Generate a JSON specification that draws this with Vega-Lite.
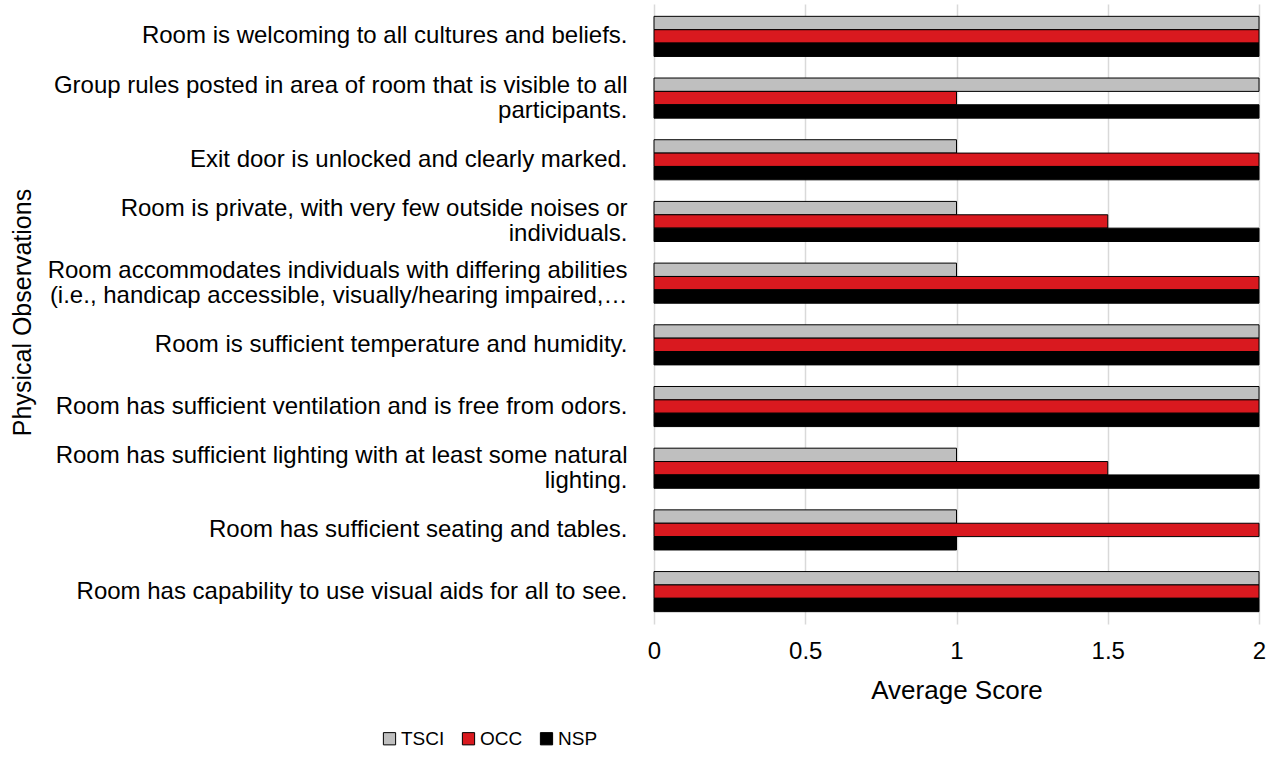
{
  "$schema": "https://vega.github.io/schema/vega-lite/v6.json",
  "autosize": {"type": "none"},
  "width": 605,
  "height": 620,
  "padding": {"left": 654, "top": 4, "right": 14, "bottom": 146},
  "background": "white",
  "config": {
    "font": "Liberation Sans",
    "view": {"stroke": null},
    "axis": {"labelFont": "Liberation Sans", "titleFont": "Liberation Sans", "labelColor": "#000000", "titleColor": "#000000", "titleFontWeight": "normal"}
  },
  "data": {
    "values": [
      {"item": "Room is welcoming to all cultures and beliefs.", "series": "TSCI", "value": 2},
      {"item": "Room is welcoming to all cultures and beliefs.", "series": "OCC", "value": 2},
      {"item": "Room is welcoming to all cultures and beliefs.", "series": "NSP", "value": 2},
      {"item": "Group rules posted in area of room that is visible to all|participants.", "series": "TSCI", "value": 2},
      {"item": "Group rules posted in area of room that is visible to all|participants.", "series": "OCC", "value": 1},
      {"item": "Group rules posted in area of room that is visible to all|participants.", "series": "NSP", "value": 2},
      {"item": "Exit door is unlocked and clearly marked.", "series": "TSCI", "value": 1},
      {"item": "Exit door is unlocked and clearly marked.", "series": "OCC", "value": 2},
      {"item": "Exit door is unlocked and clearly marked.", "series": "NSP", "value": 2},
      {"item": "Room is private, with very few outside noises or|individuals.", "series": "TSCI", "value": 1},
      {"item": "Room is private, with very few outside noises or|individuals.", "series": "OCC", "value": 1.5},
      {"item": "Room is private, with very few outside noises or|individuals.", "series": "NSP", "value": 2},
      {"item": "Room accommodates individuals with differing abilities|(i.e., handicap accessible, visually/hearing impaired,…", "series": "TSCI", "value": 1},
      {"item": "Room accommodates individuals with differing abilities|(i.e., handicap accessible, visually/hearing impaired,…", "series": "OCC", "value": 2},
      {"item": "Room accommodates individuals with differing abilities|(i.e., handicap accessible, visually/hearing impaired,…", "series": "NSP", "value": 2},
      {"item": "Room is sufficient temperature and humidity.", "series": "TSCI", "value": 2},
      {"item": "Room is sufficient temperature and humidity.", "series": "OCC", "value": 2},
      {"item": "Room is sufficient temperature and humidity.", "series": "NSP", "value": 2},
      {"item": "Room has sufficient ventilation and is free from odors.", "series": "TSCI", "value": 2},
      {"item": "Room has sufficient ventilation and is free from odors.", "series": "OCC", "value": 2},
      {"item": "Room has sufficient ventilation and is free from odors.", "series": "NSP", "value": 2},
      {"item": "Room has sufficient lighting with at least some natural|lighting.", "series": "TSCI", "value": 1},
      {"item": "Room has sufficient lighting with at least some natural|lighting.", "series": "OCC", "value": 1.5},
      {"item": "Room has sufficient lighting with at least some natural|lighting.", "series": "NSP", "value": 2},
      {"item": "Room has sufficient seating and tables.", "series": "TSCI", "value": 1},
      {"item": "Room has sufficient seating and tables.", "series": "OCC", "value": 2},
      {"item": "Room has sufficient seating and tables.", "series": "NSP", "value": 1},
      {"item": "Room has capability to use visual aids for all to see.", "series": "TSCI", "value": 2},
      {"item": "Room has capability to use visual aids for all to see.", "series": "OCC", "value": 2},
      {"item": "Room has capability to use visual aids for all to see.", "series": "NSP", "value": 2}
    ]
  },
  "mark": {"type": "bar", "stroke": "#000000", "strokeWidth": 1},
  "encoding": {
    "y": {
      "field": "item",
      "type": "nominal",
      "sort": null,
      "scale": {"paddingInner": 0.35, "paddingOuter": 0.2},
      "axis": {
        "title": "Physical Observations",
        "titleFontSize": 25,
        "titleAngle": 270,
        "titleBaseline": "middle",
        "titleAlign": "center",
        "titleX": -632,
        "titleY": 308,
        "labelFontSize": 24,
        "labelLineHeight": 25,
        "labelLimit": 700,
        "labelPadding": 27,
        "labelBaseline": "middle",
        "labelOffset": {"condition": {"test": "indexof(datum.value, '|') >= 0", "value": -12}, "value": 0},
        "labelExpr": "split(datum.label, '|')",
        "ticks": false,
        "domain": false,
        "grid": false
      }
    },
    "yOffset": {"field": "series", "type": "nominal", "sort": ["TSCI", "OCC", "NSP"]},
    "x": {
      "field": "value",
      "type": "quantitative",
      "scale": {"domain": [0, 2], "nice": false},
      "axis": {
        "title": "Average Score",
        "titleFontSize": 26,
        "titleBaseline": "middle",
        "titleY": 66,
        "labelFontSize": 24,
        "labelPadding": 15,
        "labelFlush": false,
        "values": [0, 0.5, 1, 1.5, 2],
        "format": "~g",
        "ticks": false,
        "domain": false,
        "grid": true,
        "gridColor": "#D9D9D9",
        "gridWidth": 1.5
      }
    },
    "color": {
      "field": "series",
      "type": "nominal",
      "sort": ["TSCI", "OCC", "NSP"],
      "scale": {"domain": ["TSCI", "OCC", "NSP"], "range": ["#BFBFBF", "#D9191F", "#000000"]},
      "legend": {
        "title": null,
        "orient": "none",
        "direction": "horizontal",
        "legendX": -274,
        "legendY": 725,
        "symbolType": "square",
        "symbolSize": 150,
        "symbolStrokeColor": "#000000",
        "symbolStrokeWidth": 1,
        "labelFontSize": 19,
        "labelColor": "#000000",
        "labelOffset": 2,
        "columnPadding": 14
      }
    }
  }
}
